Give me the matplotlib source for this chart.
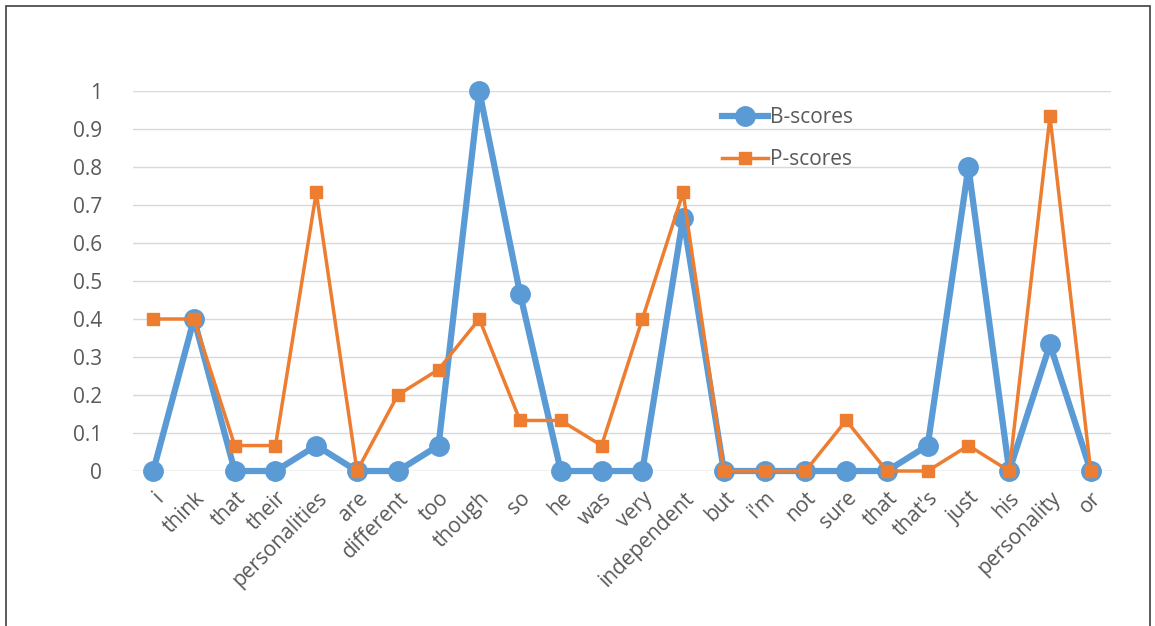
import numpy as np
import matplotlib.pyplot as plt
from matplotlib.patches import Rectangle

words = ["i", "think", "that", "their", "personalities", "are", "different",
         "too", "though", "so", "he", "was", "very", "independent", "but",
         "i'm", "not", "sure", "that", "that's", "just", "his", "personality", "or"]

b_scores = [0, 0.4, 0, 0, 0.067, 0, 0, 0.067, 1, 0.467, 0, 0, 0, 0.667,
            0, 0, 0, 0, 0, 0.067, 0.8, 0, 0.333, 0]
p_scores = [0.4, 0.4, 0.067, 0.067, 0.733, 0, 0.2, 0.267, 0.4, 0.133, 0.133,
            0.067, 0.4, 0.733, 0, 0, 0, 0.133, 0, 0, 0.067, 0, 0.933, 0]

plt.rcParams["font.family"] = ["Open Sans", "DejaVu Sans"]
text_col = "#595959"

fig = plt.figure(figsize=(11.55, 6.26), dpi=100)
ax = fig.add_axes([0.115, 0.2476, 0.847, 0.607])

x = np.arange(len(words))
ax.plot(x, b_scores, color="#5B9BD5", linewidth=4.5, marker="o",
        markersize=14, label="B-scores", clip_on=False, zorder=3)
ax.plot(x, p_scores, color="#ED7D31", linewidth=2.5, marker="s",
        markersize=8, label="P-scores", clip_on=False, zorder=4)

ax.set_xlim(-0.5, len(words) - 0.5)
ax.set_ylim(0, 1)
ax.set_yticks(np.arange(0, 1.01, 0.1))
ax.set_yticklabels(["0"] + ["%.1f" % v for v in np.arange(0.1, 0.95, 0.1)] + ["1"])
ax.yaxis.grid(True, color="#D9D9D9", linewidth=1)
ax.set_axisbelow(True)
for s in ax.spines.values():
    s.set_visible(False)
ax.axhline(0, color="#D9D9D9", linewidth=1, zorder=1)

ax.set_xticks(x)
ax.set_xticklabels(words, rotation=45, ha="right", rotation_mode="anchor")
ax.tick_params(axis="both", length=0, labelsize=15, labelcolor=text_col)
ax.tick_params(axis="x", pad=12)
ax.tick_params(axis="y", pad=22)

leg = ax.legend(loc="upper left", bbox_to_anchor=(0.592, 0.985), frameon=False,
                fontsize=15, handlelength=2.2, handletextpad=0.1, borderpad=0,
                labelspacing=1.0, labelcolor=text_col)

fig.patches.append(Rectangle((6 / 1155, -0.05), 1144 / 1155, 1.05 - 6 / 626,
                             transform=fig.transFigure, fill=False,
                             edgecolor="#404040", linewidth=1.2))

fig.savefig("out.png", dpi=100)
